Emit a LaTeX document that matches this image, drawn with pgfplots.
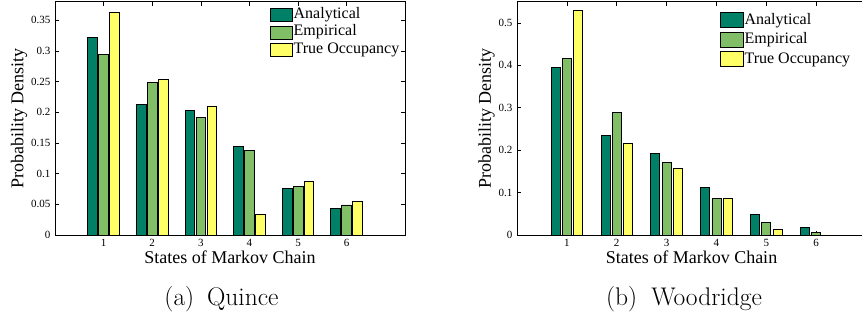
\documentclass[border=0pt]{standalone}
\usepackage{fontspec}
\usepackage{pgfplots}
\pgfplotsset{compat=1.18}
\newfontfamily\tnr{Liberation Serif}
\definecolor{cA}{RGB}{0,128,102}
\definecolor{cE}{RGB}{128,191,102}
\definecolor{cT}{RGB}{255,255,102}
\pgfplotsset{
  mystyle/.style={
    scale only axis,
    anchor=south west,
    height=233.3pt,
    axis line style={line width=0.9pt},
    tick align=inside,
    tick pos=both,
    major tick length=4pt,
    tick style={line width=0.6pt, black},
    xtick={1,2,3,4,5,6},
    xmin=0,
    scaled y ticks=false,
    /pgf/number format/assume math mode=true,
    yticklabel style={/pgf/number format/fixed, /pgf/number format/precision=2, font=\tnr\fontsize{11}{13}\selectfont, xshift=-1pt},
    xticklabel style={font=\tnr\fontsize{11}{13}\selectfont, yshift=-1pt},
    label style={font=\tnr\fontsize{18}{20}\selectfont},
    xlabel={States of Markov Chain},
    ylabel={Probability Density},
    xlabel style={at={(axis description cs:0.5,0)}, anchor=base, yshift=-29pt},
    every axis plot/.append style={ybar, draw=black, line width=0.8pt},
    legend cell align=left,
  },
}
\begin{document}
\begin{tikzpicture}
\useasboundingbox (0,0) rectangle (862pt,320pt);
% ---------- (a) Quince ----------
\begin{axis}[mystyle,
  at={(55pt,85pt)},
  width=350pt,
  xmax=7.2, ymin=0, ymax=0.38,
  ytick={0,0.05,0.1,0.15,0.2,0.25,0.3,0.35},
  ylabel style={at={(axis description cs:-0.103,0.5)}, anchor=center},
  legend image code/.code={\draw[#1,draw=black,line width=0.8pt] (0pt,-6.5pt) rectangle (22pt,6.5pt);},
  legend style={at={(rel axis cs:0.614,0.982)}, anchor=north west, draw=none, fill=none, inner sep=0pt,
    row sep=0pt, column sep=0pt,
    nodes={inner sep=0.8pt, text height=11.5pt, text depth=4.5pt, font=\tnr\fontsize{16}{18}\selectfont}},
]
\addplot[fill=cA, bar width=0.2, bar shift=-0.225] coordinates {(1,0.322) (2,0.213) (3,0.203) (4,0.1437) (5,0.076) (6,0.043)};
\addplot[fill=cE, bar width=0.2, bar shift=0] coordinates {(1,0.2946) (2,0.2485) (3,0.1915) (4,0.137) (5,0.079) (6,0.049)};
\addplot[fill=cT, bar width=0.2, bar shift=0.225] coordinates {(1,0.3625) (2,0.2534) (3,0.2089) (4,0.033) (5,0.0879) (6,0.0549)};
\legend{Analytical,Empirical,True Occupancy}
\end{axis}
% ---------- (b) Woodridge ----------
\begin{axis}[mystyle,
  at={(517pt,85pt)},
  width=349pt,
  xmax=7, ymin=0, ymax=0.55,
  ytick={0,0.1,0.2,0.3,0.4,0.5},
  ylabel style={at={(axis description cs:-0.087,0.5)}, anchor=center},
  legend image code/.code={\draw[#1,draw=black,line width=0.8pt] (0pt,-7.5pt) rectangle (23pt,7.5pt);},
  legend style={at={(rel axis cs:0.581,0.964)}, anchor=north west, draw=none, fill=none, inner sep=0pt,
    row sep=0pt, column sep=0pt,
    nodes={inner sep=0.8pt, text height=13pt, text depth=4.9pt, font=\tnr\fontsize{16}{18}\selectfont}},
]
\addplot[fill=cA, bar width=0.18, bar shift=-0.225] coordinates {(1,0.395) (2,0.2345) (3,0.192) (4,0.112) (5,0.048) (6,0.018)};
\addplot[fill=cE, bar width=0.18, bar shift=0] coordinates {(1,0.4165) (2,0.2887) (3,0.1718) (4,0.087) (5,0.029) (6,0.007)};
\addplot[fill=cT, bar width=0.18, bar shift=0.225] coordinates {(1,0.5287) (2,0.2157) (3,0.157) (4,0.0855) (5,0.0133) (6,0)};
\legend{Analytical,Empirical,True Occupancy}
\end{axis}
\node[anchor=base, font=\fontsize{25.5}{30}\selectfont] at (221.5pt,14pt) {(a)\hspace{0.5em}Quince};
\node[anchor=base, font=\fontsize{25.5}{30}\selectfont] at (684pt,14pt) {(b)\hspace{0.55em}Woodridge};
\end{tikzpicture}
\end{document}
